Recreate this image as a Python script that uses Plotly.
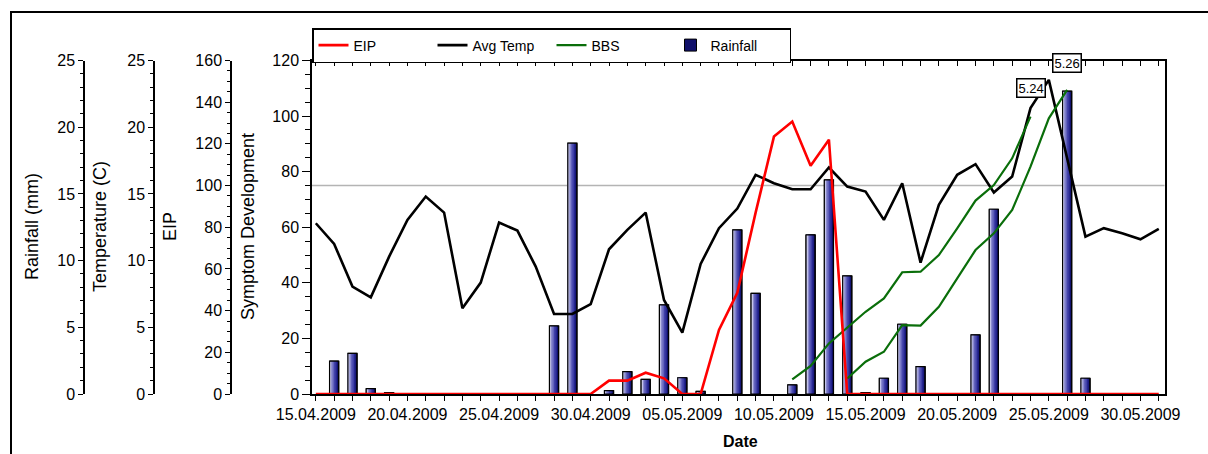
import plotly.graph_objects as go
import pandas as pd

# ---------------- data ----------------
dates = pd.date_range("2009-04-15", "2009-05-31", freq="D")

avg_temp = [12.8, 11.25, 8.05, 7.25, 10.3, 13.05, 14.8, 13.6, 6.43, 8.35,
            12.85, 12.25, 9.55, 6.0, 6.0, 6.73, 10.85, 12.3, 13.6, 7.05,
            4.6, 9.75, 12.43, 13.9, 16.43, 15.8, 15.35, 15.35, 16.98, 15.55,
            15.18, 13.05, 15.8, 9.85, 14.18, 16.43, 17.23, 15.1, 16.3, 21.43,
            23.55, 17.65, 11.8, 12.43, 12.05, 11.6, 12.38]

eip = [0, 0, 0, 0, 0, 0, 0, 0, 0, 0,
       0, 0, 0, 0, 0, 0, 6.4, 6.4, 10.2, 7.5,
       0, 0, 30.7, 48.5, 87, 123.5, 130.7, 109.5, 122, 0,
       0, 0, 0, 0, 0, 0, 0, 0, 0, 0,
       0, 0, 0, 0, 0, 0, 0]

bbs_a_start = 26
bbs_a = [5.3, 10.1, 18.2, 24, 29.6, 34.4, 43.8, 44, 50, 59.6, 69.6, 75.2, 84.8, 99.8]
bbs_b_start = 29
bbs_b = [5.6, 11.6, 15.2, 24.8, 24.6, 31.4, 41.6, 51.8, 57.8, 66.2, 81.8, 99.2, 109.4]

rainfall = [None, 2.47, 3.05, 0.4, 0.1, None, None, None, None, None,
            None, None, None, 5.1, 18.8, None, 0.25, 1.67, 1.1, 6.68,
            1.22, 0.2, None, 12.3, 7.55, None, 0.68, 11.93, 16.05, 8.85,
            0.1, 1.18, 5.23, 2.05, None, None, 4.43, 13.85, None, None,
            None, 22.7, 1.18, None, None, None, None]

eip_threshold = 100

# ---------------- styling ----------------
W_PX = 1208
H_PX = 454
FONT = "Liberation Sans, Arial, sans-serif"
DAY = 86400000
BAR_W = 0.5 * DAY

x_dom = [312 / W_PX, 1164.5 / W_PX]
y_dom = [(H_PX - 394) / H_PX, (H_PX - 60.5) / H_PX]

fig = go.Figure()

# gradient bars (light on the left, dark navy on the right)
grad = [(1.0, "#10106a"), (0.83, "#262690"), (0.67, "#4040a8"),
        (0.5, "#6262bc"), (0.33, "#8c8cd0"), (0.17, "#c4c4ea")]
for i, (f, c) in enumerate(grad):
    fig.add_trace(go.Bar(
        x=dates, y=rainfall, width=BAR_W * f, offset=-BAR_W / 2,
        marker=dict(color=c, line=dict(color="black", width=1 if i == 0 else 0)),
        name="Rainfall", showlegend=(i == 0), legendrank=4, yaxis="y"))
fig.add_trace(go.Bar(
    x=dates, y=rainfall, width=BAR_W, offset=-BAR_W / 2,
    marker=dict(color="rgba(0,0,0,0)", line=dict(color="black", width=1.2)),
    showlegend=False, yaxis="y"))

fig.add_trace(go.Scatter(x=dates, y=avg_temp, mode="lines", name="Avg Temp",
                         line=dict(color="black", width=2.6), yaxis="y2", legendrank=2))
fig.add_trace(go.Scatter(x=dates, y=eip, mode="lines", name="EIP",
                         line=dict(color="#ff0000", width=2.6), xaxis="x2", yaxis="y3",
                         legendrank=1))
fig.add_trace(go.Scatter(x=dates[bbs_a_start:bbs_a_start + len(bbs_a)], y=bbs_a,
                         mode="lines", name="BBS", line=dict(color="#0a6e0a", width=2.2),
                         yaxis="y4", legendrank=3))
fig.add_trace(go.Scatter(x=dates[bbs_b_start:bbs_b_start + len(bbs_b)], y=bbs_b,
                         mode="lines", name="BBS", line=dict(color="#0a6e0a", width=2.2),
                         yaxis="y4", showlegend=False))

tickfont = dict(family=FONT, size=16, color="black")


def yax(rng, dtick, minor, pos, ticklen=5, minorlen=3, **kw):
    d = dict(domain=y_dom, range=rng, dtick=dtick, tick0=0, showline=True,
             linecolor="black", linewidth=1.5, ticks="outside", ticklen=ticklen,
             tickwidth=1.3, tickcolor="black", showgrid=False, zeroline=False,
             tickfont=tickfont, side="left", automargin=False,
             minor=dict(dtick=minor, tick0=0, ticks="outside", ticklen=minorlen,
                        tickwidth=1, tickcolor="black", showgrid=False),
             fixedrange=True)
    if pos is None:
        d["anchor"] = "x"
    else:
        d["anchor"] = "free"
        d["position"] = pos
    d.update(kw)
    return d


xrange_ = ["2009-04-14 19:00", "2009-05-31 07:30"]

fig.update_layout(
    width=W_PX, height=H_PX,
    margin=dict(l=0, r=0, t=0, b=0),
    paper_bgcolor="white", plot_bgcolor="white",
    barmode="overlay",
    font=dict(family=FONT, size=16, color="black"),
    showlegend=True,
    legend=dict(orientation="h", x=312 / W_PX, y=1 - 28 / H_PX, xanchor="left",
                yanchor="top", bordercolor="black", borderwidth=1.5, bgcolor="white",
                font=dict(family=FONT, size=14, color="black"),
                entrywidth=74, itemwidth=30, traceorder="normal"),
    xaxis=dict(type="date", domain=x_dom, anchor="y", range=xrange_,
               tickmode="linear", tick0="2009-04-15", dtick=5 * DAY,
               tickformat="%d.%m.%Y", ticks="outside", ticklen=5, tickwidth=1.3,
               tickcolor="black", showline=True, linecolor="black", linewidth=1.5,
               mirror=True, showgrid=False, zeroline=False, tickfont=tickfont,
               automargin=False, fixedrange=True,
               minor=dict(dtick=DAY, tick0="2009-04-15", ticks="outside", ticklen=5,
                          tickwidth=1.3, tickcolor="black", showgrid=False)),
    xaxis2=dict(type="date", domain=x_dom, overlaying="x", anchor="y", side="top",
                range=xrange_, tickmode="linear", tick0="2009-04-15", dtick=DAY,
                ticks="inside", ticklen=5, tickwidth=1.3, tickcolor="black",
                showticklabels=False, showline=False, showgrid=False, zeroline=False,
                automargin=False, fixedrange=True),
    yaxis=yax([0, 25], 5, 1, 84 / W_PX),
    yaxis2=yax([0, 25], 5, 1, 154 / W_PX, overlaying="y"),
    yaxis3=yax([0, 160], 20, 5, 231 / W_PX, overlaying="y"),
    yaxis4=yax([0, 120], 20, 5, None, ticklen=8, minorlen=5, overlaying="y",
               mirror=True),
)

# threshold reference line
fig.add_shape(type="line", xref="paper", yref="y3", x0=x_dom[0], x1=x_dom[1],
              y0=eip_threshold, y1=eip_threshold,
              line=dict(color="#b4b4b4", width=1.5), layer="below")

# outer frame
fig.add_shape(type="line", xref="paper", yref="paper", x0=10 / W_PX, x1=1,
              y0=1 - 12 / H_PX, y1=1 - 12 / H_PX, line=dict(color="black", width=2))
fig.add_shape(type="line", xref="paper", yref="paper", x0=11 / W_PX, x1=11 / W_PX,
              y0=0, y1=1 - 12 / H_PX, line=dict(color="black", width=2))

# axis titles
titles = [("Rainfall (mm)", 32), ("Temperature (C)", 100), ("EIP", 170),
          ("Symptom Development", 248)]
for txt, xp in titles:
    fig.add_annotation(text=txt, x=xp / W_PX, y=1 - 227 / H_PX, xref="paper",
                       yref="paper", showarrow=False, textangle=-90,
                       xanchor="center", yanchor="middle",
                       font=dict(family=FONT, size=18, color="black"))
fig.add_annotation(text="<b>Date</b>", x=740 / W_PX, y=1 - 441 / H_PX, xref="paper",
                   yref="paper", showarrow=False, xanchor="center", yanchor="middle",
                   font=dict(family=FONT, size=16, color="black"))

# end-date labels of the BBS curves
for start, series, shift in [(bbs_a_start, bbs_a, 29), (bbs_b_start, bbs_b, 27)]:
    d = dates[start + len(series) - 1]
    fig.add_annotation(text=f"{d.month}.{d.day}", x=d, y=series[-1], xref="x",
                       yref="y4", yshift=shift, showarrow=False,
                       bordercolor="black", borderwidth=1.5, bgcolor="white",
                       borderpad=1, font=dict(family=FONT, size=13, color="black"))

fig.write_html("out.html")
